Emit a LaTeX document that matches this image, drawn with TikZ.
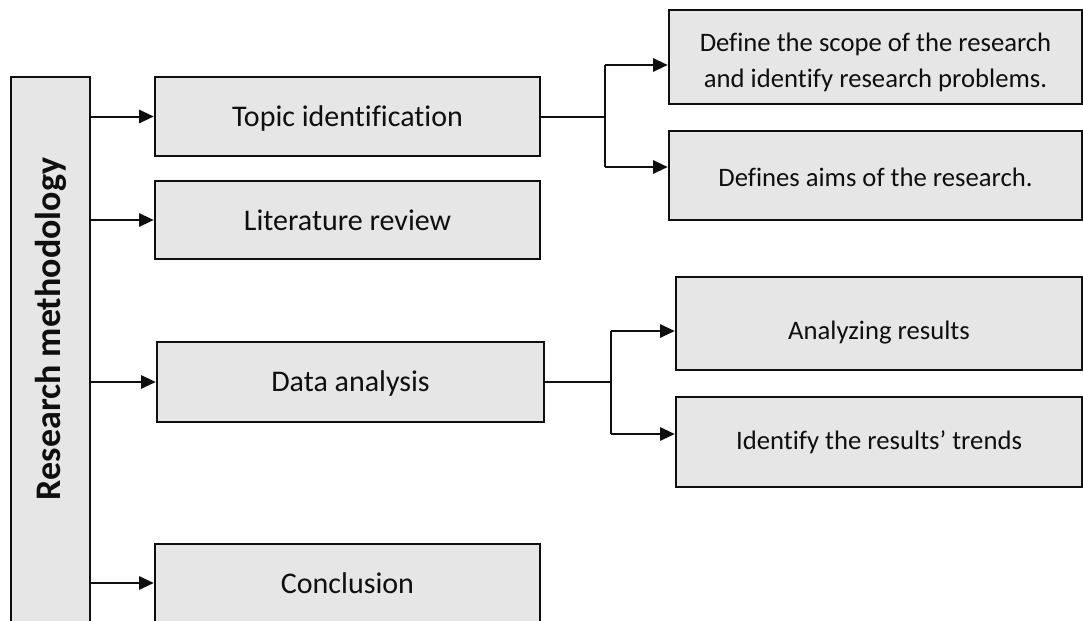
\documentclass[tikz,border=0pt]{standalone}
\usepackage{fontspec}
\setmainfont{Carlito}[Ligatures={NoCommon,NoContextual,NoRare,NoDiscretionary}]
\usetikzlibrary{arrows.meta}
\definecolor{boxfill}{RGB}{231,230,230}
\definecolor{ink}{RGB}{15,15,15}
\newcommand{\lowertext}[2]{\raisebox{-#1}[\height][\depth]{#2}}
\tikzset{
  box/.style={draw=ink, line width=1.9pt, fill=boxfill, rectangle, inner sep=0pt, align=center, text=ink},
  mainbox/.style={box, font=\fontsize{22.5}{27}\selectfont},
  subbox/.style={box, font=\fontsize{20}{27}\selectfont},
  conn/.style={draw=ink, line width=1.5pt},
  arr/.style={conn, -{Triangle[length=11pt, width=10pt]}},
}
\begin{document}
\begin{tikzpicture}[x=0.75pt, y=-0.75pt]
\clip (0,0) rectangle (1083,621);
\fill[white] (0,0) rectangle (1083,621);
% tall left box
\node[box, minimum width=79*0.75pt, minimum height=600*0.75pt] (rm) at (50.5,377) {};
\node[rotate=90, text=ink, font=\fontsize{27}{30}\selectfont\bfseries] (rmtext) at (51,329) {Research methodology};
% main steps
\node[mainbox, minimum width=385*0.75pt, minimum height=79*0.75pt] (topic) at (347.5,116.5) {\lowertext{1.5pt}{Topic identification}};
\node[mainbox, minimum width=385*0.75pt, minimum height=78*0.75pt] (lit) at (347.5,220) {Literature review};
\node[mainbox, minimum width=387*0.75pt, minimum height=80*0.75pt] (data) at (350.5,382) {\lowertext{1pt}{Data analysis}};
\node[mainbox, minimum width=385*0.75pt, minimum height=78*0.75pt] (concl) at (347.5,583) {Conclusion};
% sub steps
\node[subbox, minimum width=413*0.75pt, minimum height=94*0.75pt] (scope) at (875.5,57) {\lowertext{4pt}{\begin{tabular}{@{}c@{}}Define the scope of the research\\and identify research problems.\end{tabular}}};
\node[subbox, minimum width=413*0.75pt, minimum height=89*0.75pt] (aims) at (875.5,175.5) {\lowertext{1.5pt}{Defines aims of the research.}};
\node[subbox, minimum width=406*0.75pt, minimum height=93*0.75pt] (anal) at (879,323.5) {\lowertext{6.5pt}{Analyzing results}};
\node[subbox, minimum width=406*0.75pt, minimum height=90*0.75pt] (trend) at (879,442) {Identify the results’ trends};
% left arrows
\draw[arr] (rm.east |- topic.west) -- (topic.west);
\draw[arr] (rm.east |- lit.west) -- (lit.west);
\draw[arr] (rm.east |- data.west) -- (data.west);
\draw[arr] (rm.east |- concl.west) -- (concl.west);
% topic fork
\coordinate (f1) at (605,116.5);
\coordinate (f1a) at (605,65);
\coordinate (f1b) at (605,167);
\draw[conn] (topic.east) -- (f1);
\draw[conn] (f1a) -- (f1b);
\draw[arr] (f1a) -- (scope.west |- f1a);
\draw[arr] (f1b) -- (aims.west |- f1b);
% data fork
\coordinate (f2) at (611,382);
\coordinate (f2a) at (611,331);
\coordinate (f2b) at (611,434);
\draw[conn] (data.east) -- (f2);
\draw[conn] (f2a) -- (f2b);
\draw[arr] (f2a) -- (anal.west |- f2a);
\draw[arr] (f2b) -- (trend.west |- f2b);
\end{tikzpicture}
\end{document}
